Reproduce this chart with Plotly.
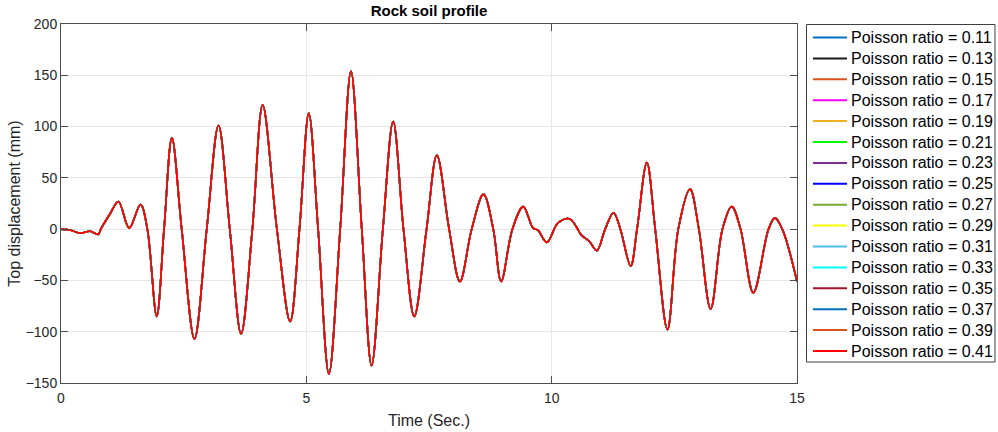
import plotly.graph_objects as go

# Poisson ratios of the analysed cases
poisson_ratios = [0.11, 0.13, 0.15, 0.17, 0.19, 0.21, 0.23, 0.25,
                  0.27, 0.29, 0.31, 0.33, 0.35, 0.37, 0.39, 0.41]

# Line colour per case
line_colors = ["#0072BD", "#1A1A1A", "#D95319", "#FF00FF", "#EDB120", "#00FF00",
               "#7E2F8E", "#0000FF", "#77AC30", "#FFFF00", "#4DBEEE", "#00FFFF",
               "#A2142F", "#0072BD", "#D95319", "#FF0000"]

# Time history of the top displacement (all cases coincide)
time_s = [0.00, 0.20, 0.39, 0.59, 0.76, 0.81, 1.00, 1.17, 1.39, 1.62, 1.76,
          1.95, 2.10, 2.26, 2.46, 2.72, 2.97, 3.21, 3.44, 3.67, 3.90, 4.11,
          4.40, 4.67, 4.86, 5.05, 5.24, 5.46, 5.69, 5.91, 6.13, 6.33, 6.56,
          6.77, 6.98, 7.20, 7.45, 7.66, 7.91, 8.13, 8.37, 8.61, 8.81, 8.97,
          9.20, 9.42, 9.62, 9.72, 9.90, 10.13, 10.37, 10.61, 10.77, 10.92,
          11.09, 11.26, 11.40, 11.61, 11.74, 11.94, 12.11, 12.36, 12.58, 12.82,
          13.00, 13.24, 13.48, 13.67, 13.85, 14.11, 14.42, 14.55, 14.70, 15.00]
displacement_mm = [0, -1, -4, -2, -5, 0, 15, 27, 1, 24, 0,
                   -85, 0, 89, 0, -107, 0, 101, 0, -102, 0, 121,
                   0, -90, 0, 113, 0, -141, 0, 154, 0, -133, 0,
                   105, 0, -85, 0, 72, 0, -51, 0, 34, 0, -51,
                   0, 22, 1, -1, -13, 6, 10, -6, -12, -21,
                   0, 16, 0, -36, 0, 65, 0, -98, 0, 39,
                   0, -78, 0, 22, 0, -62, 0, 11, 0, -51]

x_ticks = [0, 5, 10, 15]
y_ticks = [-150, -100, -50, 0, 50, 100, 150, 200]

# Figure geometry (pixels)
W, H = 998, 432
M_L, M_R, M_T, M_B = 61, 201, 24, 49
PW, PH = W - M_L - M_R, H - M_T - M_B


def px_x(px):
    """Horizontal pixel -> paper coordinate."""
    return (px - M_L) / PW


def px_y(py):
    """Vertical pixel (from top) -> paper coordinate."""
    return (H - M_B - py) / PH


fig = go.Figure()
for nu, col in zip(poisson_ratios, line_colors):
    fig.add_trace(go.Scatter(
        x=time_s, y=displacement_mm, mode="lines",
        line=dict(color=col, width=1.6, shape="spline", smoothing=1.0),
        name=f"Poisson ratio = {nu:.2f}", showlegend=False,
    ))

# Boxed legend with compact rows
LEG_L, LEG_R, LEG_T, LEG_B = 806.5, 995, 24.5, 362
ROW0, ROW_STEP = 37.5, 20.9
SAMPLE_X0, SAMPLE_X1, TEXT_X = 813, 847, 849

shapes = [dict(type="rect", xref="paper", yref="paper",
               x0=px_x(LEG_L), x1=px_x(LEG_R), y0=px_y(LEG_B), y1=px_y(LEG_T),
               line=dict(color="#3F3F3F", width=1), fillcolor="white", layer="above")]
annotations = []
for i, (nu, col) in enumerate(zip(poisson_ratios, line_colors)):
    yc = ROW0 + i * ROW_STEP
    shapes.append(dict(type="line", xref="paper", yref="paper",
                       x0=px_x(SAMPLE_X0), x1=px_x(SAMPLE_X1),
                       y0=px_y(yc), y1=px_y(yc),
                       line=dict(color=col, width=2), layer="above"))
    annotations.append(dict(text=f"Poisson ratio = {nu:.2f}", xref="paper", yref="paper",
                            x=px_x(TEXT_X), y=px_y(yc), xanchor="left", yanchor="middle",
                            showarrow=False,
                            font=dict(family="Liberation Sans, Arial", size=16, color="black")))

axis_common = dict(
    showline=True, linecolor="#4D4D4D", linewidth=1, mirror="ticks",
    ticks="inside", ticklen=7, tickcolor="#4D4D4D", automargin=False,
    showgrid=True, gridcolor="#E6E6E6", gridwidth=1, zeroline=False,
    tickfont=dict(family="Liberation Sans, Arial", size=14, color="#262626"),
)

fig.update_layout(
    width=W, height=H,
    paper_bgcolor="white", plot_bgcolor="white",
    margin=dict(l=M_L, r=M_R, t=M_T, b=M_B, autoexpand=False),
    font=dict(family="Liberation Sans, Arial", color="#262626"),
    title=dict(text="<b>Rock soil profile</b>", x=0.5, xref="paper",
               y=0.975, yref="container", yanchor="middle",
               font=dict(size=15, color="black")),
    xaxis=dict(range=[0, 15], tickvals=x_ticks, ticklabelstandoff=2,
               title=dict(text="Time (Sec.)", font=dict(size=16), standoff=10),
               **axis_common),
    yaxis=dict(range=[-150, 200], tickvals=y_ticks,
               title=dict(text="Top displacement (mm)", font=dict(size=16), standoff=1),
               **axis_common),
    shapes=shapes,
    annotations=annotations,
    showlegend=False,
)

fig.write_html("out.html")
